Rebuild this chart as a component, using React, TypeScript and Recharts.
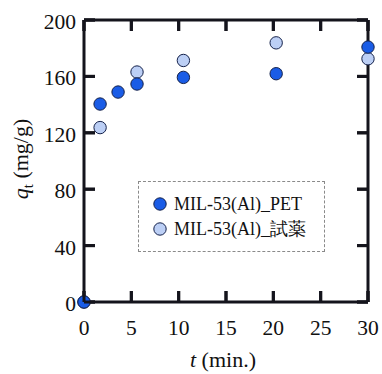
import React from 'react';
import { ScatterChart, Scatter, XAxis, YAxis, Legend, Label } from 'recharts';

const timeMin = [0, 1.7, 3.6, 5.6, 10.5, 20.3, 30];
const petQt = [0, 140.4, 148.9, 154.6, 159.3, 161.9, 180.8];
const reagentQt: (number | null)[] = [0, 123.7, null, 163.1, 171.3, 183.8, 172.5];
const xTicks = [0, 5, 10, 15, 20, 25, 30];
const yTicks = [0, 40, 80, 120, 160, 200];
const seriesNames = ['MIL-53(Al)_PET', 'MIL-53(Al)_試薬'];
const seriesColors = ['#1a5ce6', '#bccff5'];

const FONT = 'Liberation Serif';
const TICK_FS = 21.5;
const TITLE_FS = 22;
const TICK_LEN = 11;
const INK = '#14141c';

const petData = timeMin.map((t, i) => ({ t, q: petQt[i] }));
const reagentData = timeMin
  .map((t, i) => ({ t, q: reagentQt[i] }))
  .filter((d) => d.q !== null);

const BottomTick = (p: any) => (
  <g>
    <rect x={p.x - 1.5} y={p.y - TICK_LEN} width={3} height={TICK_LEN} fill={INK} />
    <text x={p.x} y={p.y + 33} textAnchor="middle" fontSize={TICK_FS} fontFamily={FONT} fill="#111">
      {p.payload.value}
    </text>
  </g>
);
const TopTick = (p: any) => (
  <rect x={p.x - 1.5} y={p.y} width={3} height={TICK_LEN} fill={INK} />
);
const LeftTick = (p: any) => (
  <g>
    <rect x={p.x} y={p.y - 1.5} width={TICK_LEN} height={3} fill={INK} />
    <text x={p.x - 8} y={p.y + 9} textAnchor="end" fontSize={TICK_FS} fontFamily={FONT} fill="#111">
      {p.payload.value}
    </text>
  </g>
);
const RightTick = (p: any) => (
  <rect x={p.x - TICK_LEN} y={p.y - 1.5} width={TICK_LEN} height={3} fill={INK} />
);

const makeDot = (fill: string) => (p: any) => (
  <circle cx={p.cx} cy={p.cy} r={6.2} fill={fill} stroke="#14214a" strokeWidth={1} />
);

const LegendBox = () => (
  <div
    style={{
      width: 187,
      height: 71,
      boxSizing: 'border-box',
      border: '1px dashed #8a8a8a',
      position: 'relative',
      fontSize: 18,
      color: '#111',
    }}
  >
    {seriesNames.map((name, i) => (
      <div
        key={name}
        style={{ position: 'absolute', left: 14, top: 11 + i * 25, height: 22, display: 'flex', alignItems: 'center', whiteSpace: 'nowrap', fontFamily: FONT }}
      >
        <svg width={14} height={14} style={{ marginRight: 7 }}>
          <circle cx={7} cy={7} r={6.2} fill={seriesColors[i]} stroke="#14214a" strokeWidth={1} />
        </svg>
        <span>{name}</span>
      </div>
    ))}
  </div>
);

export default function App() {
  return (
    <div style={{ position: 'absolute', left: 0, top: 0, background: '#fff' }}>
      <ScatterChart width={382} height={374} margin={{ top: 1, right: 1, bottom: 0, left: 0 }}>
        <XAxis
          xAxisId="b"
          dataKey="t"
          type="number"
          domain={[0, 30]}
          ticks={xTicks}
          interval={0}
          height={72}
          orientation="bottom"
          axisLine={{ stroke: INK, strokeWidth: 3 }}
          tickLine={{ stroke: INK, strokeWidth: 3 }}
          tickSize={-TICK_LEN}
          tickMargin={TICK_LEN}
          tick={BottomTick}
        >
          <Label
            content={(props: any) => {
              const vb = props.viewBox || { x: 84, width: 284 };
              return (
                <text x={vb.x + vb.width / 2 - 3} y={367} textAnchor="middle" fontSize={TITLE_FS} fontFamily={FONT} fill="#111">
                  <tspan fontStyle="italic">t</tspan>
                  <tspan> (min.)</tspan>
                </text>
              );
            }}
          />
        </XAxis>
        <XAxis
          xAxisId="t"
          dataKey="t"
          type="number"
          domain={[0, 30]}
          ticks={xTicks}
          interval={0}
          height={19}
          orientation="top"
          axisLine={{ stroke: INK, strokeWidth: 3 }}
          tickLine={{ stroke: INK, strokeWidth: 3 }}
          tickSize={-TICK_LEN}
          tickMargin={TICK_LEN}
          tick={TopTick}
        />
        <YAxis
          yAxisId="l"
          dataKey="q"
          type="number"
          domain={[0, 200]}
          ticks={yTicks}
          interval={0}
          width={84}
          orientation="left"
          axisLine={{ stroke: INK, strokeWidth: 3 }}
          tickLine={{ stroke: INK, strokeWidth: 3 }}
          tickSize={-TICK_LEN}
          tickMargin={TICK_LEN}
          tick={LeftTick}
        >
          <Label
            content={() => (
              <text
                x={28}
                y={159}
                transform="rotate(-90, 28, 159)"
                textAnchor="middle"
                fontSize={TITLE_FS}
                fontFamily={FONT}
                fill="#111"
              >
                <tspan fontStyle="italic">q</tspan>
                <tspan fontSize={15} dy={5}>t</tspan>
                <tspan dy={-5}> (mg/g)</tspan>
              </text>
            )}
          />
        </YAxis>
        <YAxis
          yAxisId="r"
          dataKey="q"
          type="number"
          domain={[0, 200]}
          ticks={yTicks}
          interval={0}
          width={13}
          orientation="right"
          axisLine={{ stroke: INK, strokeWidth: 3 }}
          tickLine={{ stroke: INK, strokeWidth: 3 }}
          tickSize={-TICK_LEN}
          tickMargin={TICK_LEN}
          tick={RightTick}
        />
        <Legend
          layout="vertical"
          align="center"
          verticalAlign="middle"
          content={() => <LegendBox />}
          wrapperStyle={{ position: 'absolute', left: 138, top: 181, width: 187, height: 71 }}
        />
        <Scatter
          name={seriesNames[1]}
          data={reagentData}
          xAxisId="t"
          yAxisId="r"
          isAnimationActive={false}
          shape={makeDot(seriesColors[1])}
        />
        <Scatter
          name={seriesNames[0]}
          data={petData}
          xAxisId="b"
          yAxisId="l"
          isAnimationActive={false}
          shape={makeDot(seriesColors[0])}
        />
      </ScatterChart>
    </div>
  );
}
